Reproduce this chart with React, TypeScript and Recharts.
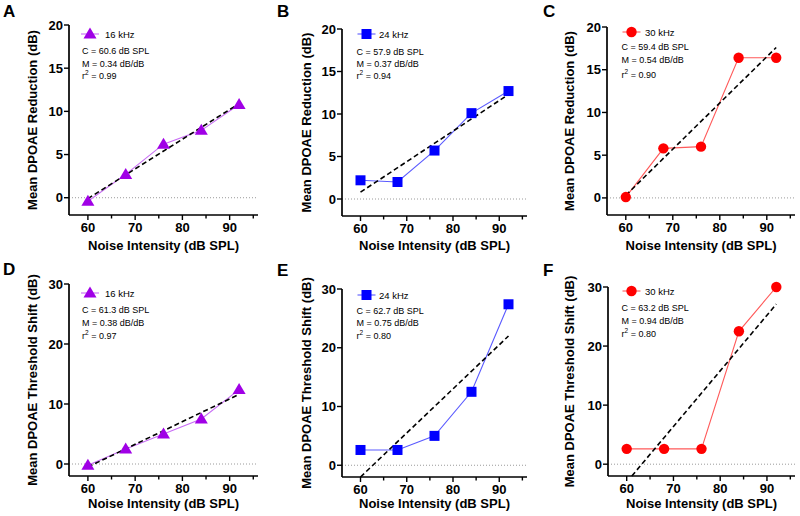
import { Line, LineChart, ReferenceLine, XAxis, YAxis } from 'recharts'

const NOISE_DB = [60, 68, 76, 84, 92]
const X_TICKS = [60, 65, 70, 75, 80, 85, 90, 95]
const TICKS_20 = [0, 5, 10, 15, 20]
const TICKS_30 = [0, 10, 20, 30]

// mean values per noise level
const REDUCTION_16 = [-0.4, 2.7, 6.2, 7.8, 10.8]
const REDUCTION_24 = [2.2, 2.0, 5.7, 10.1, 12.7]
const REDUCTION_30 = [0.1, 5.8, 6.0, 16.4, 16.4]
const SHIFT_16 = [-0.2, 2.5, 5.0, 7.5, 12.4]
const SHIFT_24 = [2.6, 2.6, 5.0, 12.5, 27.4]
const SHIFT_30 = [2.6, 2.6, 2.6, 22.5, 30.0]

// end points of the dashed regression lines
const FIT_REDUCTION_16 = [[60, -0.1], [92, 10.9]]
const FIT_REDUCTION_24 = [[60, 0.8], [92, 12.3]]
const FIT_REDUCTION_30 = [[60, 0.3], [92, 17.6]]
const FIT_SHIFT_16 = [[60, -0.5], [92, 11.6]]
const FIT_SHIFT_24 = [[60, -2.0], [92, 22.0]]
const FIT_SHIFT_30 = [[61.1, -2.0], [92, 27.1]]

const FIT_C = ['60.6', '57.9', '59.4', '61.3', '62.7', '63.2']
const FIT_M = ['0.34', '0.37', '0.54', '0.38', '0.75', '0.94']
const FIT_R2 = ['0.99', '0.94', '0.90', '0.97', '0.80', '0.80']

const FREQS = ['16 kHz', '24 kHz', '30 kHz']

const FONT = 'Arial, "Liberation Sans", Helvetica, sans-serif'
const BOLD13 = { fontFamily: FONT, fontWeight: 700, fontSize: 13 }
const AXIS = { stroke: '#000', strokeWidth: 1.7 }

type Shape = 'triangle' | 'square' | 'circle'

const STYLE: Record<string, { mark: string; line: string; shape: Shape }> = {
  '16 kHz': { mark: '#a000e6', line: '#c86cf5', shape: 'triangle' },
  '24 kHz': { mark: '#0000ff', line: '#5a5aff', shape: 'square' },
  '30 kHz': { mark: '#ff0000', line: '#ff5a5a', shape: 'circle' },
}

function marker(shape: Shape, cx: number, cy: number, fill: string, key?: string) {
  if (shape === 'triangle')
    return (
      <polygon
        key={key}
        points={`${cx},${cy - 6.5} ${cx - 6.5},${cy + 4.5} ${cx + 6.5},${cy + 4.5}`}
        fill={fill}
      />
    )
  if (shape === 'square')
    return <rect key={key} x={cx - 5} y={cy - 5} width={10} height={10} fill={fill} />
  return <circle key={key} cx={cx} cy={cy} r={5.2} fill={fill} />
}

function XTick(props: any) {
  const { x, y, payload } = props
  const major = payload.value % 10 === 0
  return (
    <g>
      <line x1={x} x2={x} y1={y} y2={y + (major ? 5 : 3.5)} stroke="#000" strokeWidth={1.4} />
      {major && (
        <text x={x} y={y + 12} textAnchor="middle" dominantBaseline="central" style={BOLD13}>
          {payload.value}
        </text>
      )}
    </g>
  )
}

function YTick(props: any) {
  const { x, y, payload } = props
  return (
    <g>
      <line x1={x - 5} x2={x} y1={y} y2={y} stroke="#000" strokeWidth={1.4} />
      <text x={x - 6} y={y} textAnchor="end" dominantBaseline="central" style={BOLD13}>
        {payload.value}
      </text>
    </g>
  )
}

interface PanelDef {
  id: string
  left: number
  top: number
  w: number
  h: number
  yMax: number
  yTicks: number[]
  values: number[]
  fit: number[][]
  freq: string
  yTitle: string
  yTitleX: number
  xTitleY: number
  letterX: number
  letterY: number
  legend: [number, number]
  textX: number
  statsX: number
  statsY: number[]
}

const REDUCTION = 'Mean DPOAE Reduction (dB)'
const SHIFT = 'Mean DPOAE Threshold Shift (dB)'

const PANELS: PanelDef[] = [
  { id: 'A', left: 69, top: 25, w: 189, h: 190, yMax: 20, yTicks: TICKS_20, values: REDUCTION_16, fit: FIT_REDUCTION_16, freq: FREQS[0], yTitle: REDUCTION, yTitleX: 32.5, xTitleY: 245, letterX: 3, letterY: 17, legend: [90, 34], textX: 105, statsX: 82, statsY: [51, 63.5, 76] },
  { id: 'B', left: 342, top: 29, w: 185, h: 187, yMax: 20, yTicks: TICKS_20, values: REDUCTION_24, fit: FIT_REDUCTION_24, freq: FREQS[1], yTitle: REDUCTION, yTitleX: 306, xTitleY: 245, letterX: 277, letterY: 17, legend: [366.5, 34], textX: 379, statsX: 356.5, statsY: [51.5, 63.5, 76] },
  { id: 'C', left: 607, top: 27, w: 188, h: 188, yMax: 20, yTicks: TICKS_20, values: REDUCTION_30, fit: FIT_REDUCTION_30, freq: FREQS[2], yTitle: REDUCTION, yTitleX: 569, xTitleY: 245, letterX: 543, letterY: 17, legend: [631.5, 32], textX: 645, statsX: 621.5, statsY: [47, 59.5, 75] },
  { id: 'D', left: 69, top: 284, w: 189, h: 192, yMax: 30, yTicks: TICKS_30, values: SHIFT_16, fit: FIT_SHIFT_16, freq: FREQS[0], yTitle: SHIFT, yTitleX: 32.5, xTitleY: 503, letterX: 3, letterY: 275, legend: [90, 293], textX: 105, statsX: 82, statsY: [309.5, 322.5, 336] },
  { id: 'E', left: 342, top: 289, w: 185, h: 188, yMax: 30, yTicks: TICKS_30, values: SHIFT_24, fit: FIT_SHIFT_24, freq: FREQS[1], yTitle: SHIFT, yTitleX: 306, xTitleY: 503, letterX: 277, letterY: 276, legend: [366.5, 295], textX: 379, statsX: 356.5, statsY: [310.5, 322.5, 336] },
  { id: 'F', left: 608, top: 287, w: 187, h: 189, yMax: 30, yTicks: TICKS_30, values: SHIFT_30, fit: FIT_SHIFT_30, freq: FREQS[2], yTitle: SHIFT, yTitleX: 569, xTitleY: 503, letterX: 543, letterY: 276, legend: [631.5, 291], textX: 645, statsX: 621.5, statsY: [308, 320.5, 334] },
]

const ML = 60
const MT = 12
const MR = 8
const XH = 42

function Panel({ p }: { p: PanelDef }) {
  const st = STYLE[p.freq]
  const rows = NOISE_DB.map((x, i) => ({ x, y: p.values[i] }))
  const fit = p.fit.map(([x, y]) => ({ x, y }))
  const ox = p.left - ML
  const oy = p.top - MT
  const w = ML + p.w + MR
  const h = MT + p.h + XH

  return (
    <div style={{ position: 'absolute', left: ox, top: oy }}>
      <LineChart width={w} height={h} margin={{ top: MT, right: MR, bottom: 0, left: 0 }}>
        <XAxis
          dataKey="x"
          type="number"
          domain={[56, 96]}
          ticks={X_TICKS}
          interval={0}
          tickSize={0}
          tickMargin={0}
          tickLine={false}
          tick={<XTick />}
          axisLine={AXIS}
          height={XH}
          label={() => (
            <text
              x={ML + p.w / 2}
              y={p.xTitleY - oy}
              textAnchor="middle"
              dominantBaseline="central"
              style={BOLD13}
            >
              Noise Intensity (dB SPL)
            </text>
          )}
        />
        <YAxis
          type="number"
          domain={[-2, p.yMax]}
          ticks={p.yTicks}
          interval={0}
          tickSize={0}
          tickMargin={0}
          tickLine={false}
          tick={<YTick />}
          axisLine={AXIS}
          width={ML}
          label={() => {
            const cx = p.yTitleX - ox
            const cy = MT + p.h / 2
            return (
              <text
                x={cx}
                y={cy}
                transform={`rotate(-90 ${cx} ${cy})`}
                textAnchor="middle"
                dominantBaseline="central"
                style={BOLD13}
              >
                {p.yTitle}
              </text>
            )
          }}
        />
        <ReferenceLine y={0} stroke="#9a9a9a" strokeWidth={1} strokeDasharray="1 2" />
        <Line
          data={rows}
          dataKey="y"
          stroke={st.line}
          strokeWidth={1.1}
          isAnimationActive={false}
          activeDot={false}
          dot={(d: any) => marker(st.shape, d.cx, d.cy, st.mark, `m${d.index}`)}
        />
        <Line
          data={fit}
          dataKey="y"
          stroke="#000"
          strokeWidth={1.6}
          strokeDasharray="5 3"
          dot={false}
          activeDot={false}
          isAnimationActive={false}
        />
      </LineChart>
    </div>
  )
}

function Annotations() {
  return (
    <svg
      width={800}
      height={516}
      style={{ position: 'absolute', left: 0, top: 0, pointerEvents: 'none' }}
    >
      {PANELS.map((p, i) => {
        const st = STYLE[p.freq]
        const [mx, my] = p.legend
        const small = { fontFamily: FONT, fontSize: 9 }
        return (
          <g key={p.id}>
            <text x={p.letterX} y={p.letterY} style={{ fontFamily: FONT, fontWeight: 700, fontSize: 17 }}>
              {p.id}
            </text>
            <line x1={mx - 9} x2={mx + 9} y1={my} y2={my} stroke={st.line} strokeWidth={1.1} />
            {marker(st.shape, mx, my, st.mark)}
            <text x={p.textX} y={my} dominantBaseline="central" style={{ fontFamily: FONT, fontSize: 9.5 }}>
              {p.freq}
            </text>
            <text x={p.statsX} y={p.statsY[0]} dominantBaseline="central" style={small}>
              C = {FIT_C[i]} dB SPL
            </text>
            <text x={p.statsX} y={p.statsY[1]} dominantBaseline="central" style={small}>
              M = {FIT_M[i]} dB/dB
            </text>
            <text x={p.statsX} y={p.statsY[2]} dominantBaseline="central" style={small}>
              r
              <tspan dy={-4} fontSize={6.5}>
                2
              </tspan>
              <tspan dy={4}> = {FIT_R2[i]}</tspan>
            </text>
          </g>
        )
      })}
    </svg>
  )
}

export default function App() {
  return (
    <div
      style={{
        position: 'absolute',
        left: 0,
        top: 0,
        width: 800,
        height: 516,
        background: '#fff',
        overflow: 'hidden',
      }}
    >
      {PANELS.map((p) => (
        <Panel key={p.id} p={p} />
      ))}
      <Annotations />
    </div>
  )
}
